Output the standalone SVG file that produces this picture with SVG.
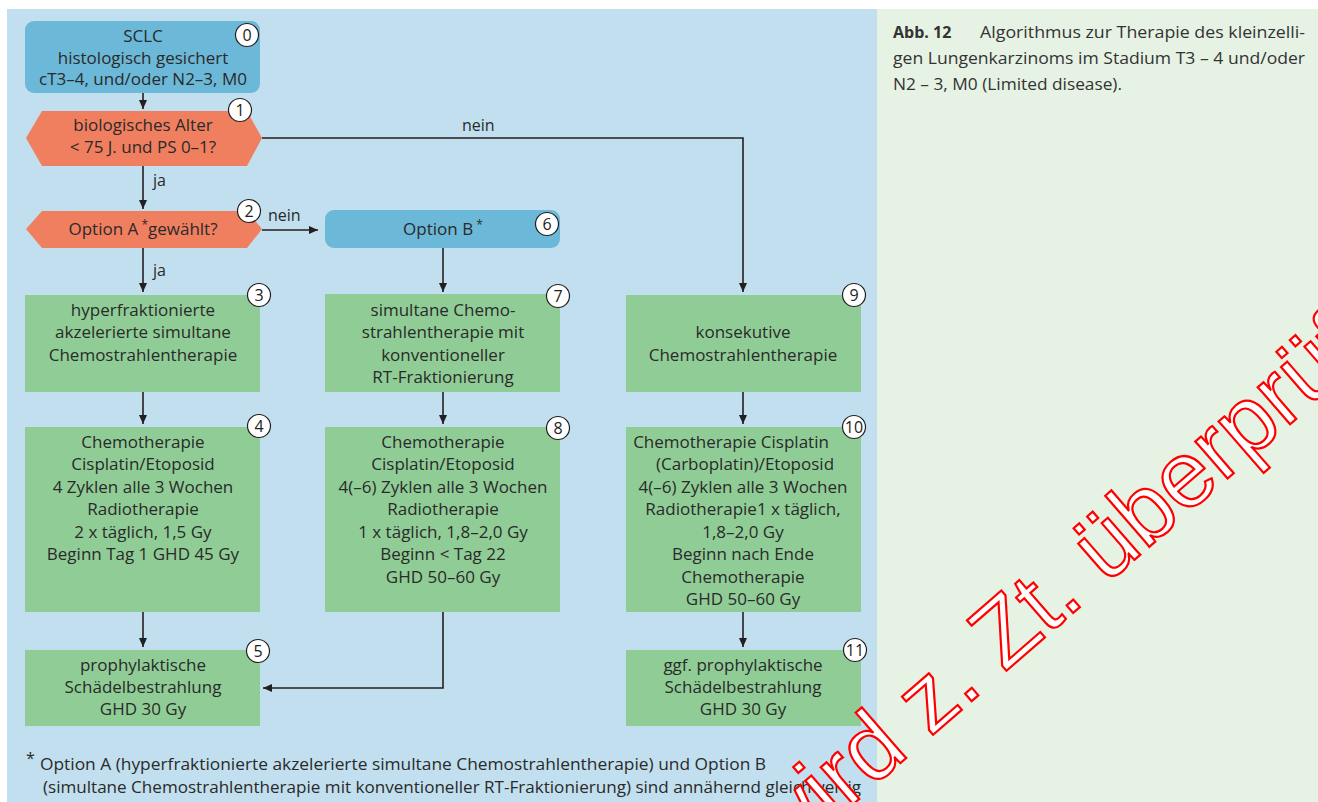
<svg xmlns="http://www.w3.org/2000/svg" width="1318" height="802" viewBox="0 0 1318 802">
<defs>
<marker id="ah" markerUnits="userSpaceOnUse" markerWidth="10" markerHeight="8" refX="9" refY="4" orient="auto">
<path d="M0,0 L9,4 L0,8 z" fill="#231f20"/>
</marker>
<style>
.t{font-family:"Open Sans","Noto Sans","Liberation Sans",sans-serif;font-size:17px;fill:#2a2a2a;text-anchor:middle}
.lbl{font-family:"Open Sans","Noto Sans","Liberation Sans",sans-serif;font-size:16px;fill:#2a2a2a}
.cap{font-family:"Open Sans","Noto Sans","Liberation Sans",sans-serif;font-size:16px;fill:#333}
.num{font-family:"Open Sans","Noto Sans","Liberation Sans",sans-serif;font-size:16px;fill:#222;text-anchor:middle}
.nc{fill:#fff;stroke:#231f20;stroke-width:1.2}
.blue{fill:#6cb8d8}
.green{fill:#90cd96}
.sal{fill:#f07f60}
.c{fill:none;stroke:#231f20;stroke-width:1.6;marker-end:url(#ah)}
.wm{font-family:"Liberation Sans","Arimo",sans-serif;font-size:93px;fill:#fff;stroke:#ff0000;stroke-width:2.2}
</style>
</defs>
<rect x="0" y="0" width="1318" height="802" fill="#fff"/>
<rect x="7" y="9" width="870" height="793" fill="#c1dfee"/>
<rect x="877" y="9" width="441" height="793" fill="#e6f2e4"/>

<g id="connectors">
<line class="c" x1="143" y1="93" x2="143" y2="109"/>
<line class="c" x1="143" y1="166" x2="143" y2="209"/>
<polyline class="c" points="262,138 743,138 743,292"/>
<line class="c" x1="262" y1="230" x2="318" y2="230"/>
<line class="c" x1="143" y1="248" x2="143" y2="292"/>
<line class="c" x1="443" y1="248" x2="443" y2="292"/>
<line class="c" x1="143" y1="392" x2="143" y2="424"/>
<line class="c" x1="443" y1="392" x2="443" y2="424"/>
<line class="c" x1="743" y1="392" x2="743" y2="424"/>
<line class="c" x1="143" y1="612" x2="143" y2="647"/>
<polyline class="c" points="443,612 443,688 263,688"/>
<line class="c" x1="743" y1="612" x2="743" y2="647"/>
<text class="lbl" x="153" y="186">ja</text>
<text class="lbl" x="153" y="276">ja</text>
<text class="lbl" x="268" y="221">nein</text>
<text class="lbl" x="462" y="131">nein</text>
</g>

<g id="n0">
<rect class="blue" x="25" y="21" width="235" height="72" rx="9"/>
<text class="t" x="143" y="42">SCLC</text>
<text class="t" x="143" y="64">histologisch gesichert</text>
<text class="t" x="143" y="85">cT3–4, und/oder N2–3, M0</text>
<circle class="nc" cx="247" cy="35" r="11.5"/><text class="num" x="247" y="41">0</text>
</g>

<g id="n1">
<polygon class="sal" points="26,138 42,111 247,111 262,138 247,166 42,166"/>
<text class="t" x="143" y="131">biologisches Alter</text>
<text class="t" x="143" y="153">&lt; 75 J. und PS 0–1?</text>
<circle class="nc" cx="240" cy="110" r="11.5"/><text class="num" x="240" y="116">1</text>
</g>

<g id="n2">
<polygon class="sal" points="26,229 42,211 247,211 262,229 247,248 42,248"/>
<text class="t" x="143" y="235">Option A<tspan font-size="12" dy="-6"> *</tspan><tspan dy="6">gewählt?</tspan></text>
<circle class="nc" cx="249" cy="211" r="11.5"/><text class="num" x="249" y="217">2</text>
</g>

<g id="n6">
<rect class="blue" x="325" y="210" width="235" height="38" rx="9"/>
<text class="t" x="443" y="235">Option B<tspan font-size="12" dy="-6"> *</tspan></text>
<circle class="nc" cx="547" cy="224" r="11.5"/><text class="num" x="547" y="230">6</text>
</g>

<g id="n3">
<rect class="green" x="25" y="295" width="235" height="97"/>
<text class="t" x="143" y="316">hyperfraktionierte</text>
<text class="t" x="143" y="338">akzelerierte simultane</text>
<text class="t" x="143" y="361">Chemostrahlentherapie</text>
<circle class="nc" cx="259" cy="295" r="11.5"/><text class="num" x="259" y="301">3</text>
</g>

<g id="n7">
<rect class="green" x="325" y="294" width="235" height="98"/>
<text class="t" x="443" y="316">simultane Chemo-</text>
<text class="t" x="443" y="338">strahlentherapie mit</text>
<text class="t" x="443" y="361">konventioneller</text>
<text class="t" x="443" y="383">RT-Fraktionierung</text>
<circle class="nc" cx="558" cy="296" r="11.5"/><text class="num" x="558" y="302">7</text>
</g>

<g id="n9">
<rect class="green" x="626" y="295" width="235" height="97"/>
<text class="t" x="743" y="338">konsekutive</text>
<text class="t" x="743" y="361">Chemostrahlentherapie</text>
<circle class="nc" cx="854" cy="295" r="11.5"/><text class="num" x="854" y="301">9</text>
</g>

<g id="n4">
<rect class="green" x="25" y="427" width="235" height="185"/>
<text class="t" x="143" y="448">Chemotherapie</text>
<text class="t" x="143" y="470">Cisplatin/Etoposid</text>
<text class="t" x="143" y="493">4 Zyklen alle 3 Wochen</text>
<text class="t" x="143" y="515">Radiotherapie</text>
<text class="t" x="143" y="538">2 x täglich, 1,5 Gy</text>
<text class="t" x="143" y="560">Beginn Tag 1 GHD 45 Gy</text>
<circle class="nc" cx="259" cy="426" r="11.5"/><text class="num" x="259" y="432">4</text>
</g>

<g id="n8">
<rect class="green" x="325" y="427" width="235" height="185"/>
<text class="t" x="443" y="448">Chemotherapie</text>
<text class="t" x="443" y="470">Cisplatin/Etoposid</text>
<text class="t" x="443" y="493">4(–6) Zyklen alle 3 Wochen</text>
<text class="t" x="443" y="515">Radiotherapie</text>
<text class="t" x="443" y="538">1 x täglich, 1,8–2,0 Gy</text>
<text class="t" x="443" y="560">Beginn &lt; Tag 22</text>
<text class="t" x="443" y="583">GHD 50–60 Gy</text>
<circle class="nc" cx="558" cy="428" r="11.5"/><text class="num" x="558" y="434">8</text>
</g>

<g id="n10">
<rect class="green" x="626" y="427" width="235" height="185"/>
<text class="t" x="731" y="448">Chemotherapie Cisplatin</text>
<text class="t" x="745" y="470">(Carboplatin)/Etoposid</text>
<text class="t" x="743" y="493">4(–6) Zyklen alle 3 Wochen</text>
<text class="t" x="743" y="515">Radiotherapie1 x täglich,</text>
<text class="t" x="743" y="538">1,8–2,0 Gy</text>
<text class="t" x="743" y="560">Beginn nach Ende</text>
<text class="t" x="743" y="583">Chemotherapie</text>
<text class="t" x="743" y="605">GHD 50–60 Gy</text>
<circle class="nc" cx="854" cy="427" r="11.5"/><text class="num" x="854" y="433">10</text>
</g>

<g id="n5">
<rect class="green" x="25" y="650" width="235" height="76"/>
<text class="t" x="143" y="671">prophylaktische</text>
<text class="t" x="143" y="693">Schädelbestrahlung</text>
<text class="t" x="143" y="715">GHD 30 Gy</text>
<circle class="nc" cx="258" cy="651" r="11.5"/><text class="num" x="258" y="657">5</text>
</g>

<g id="n11">
<rect class="green" x="626" y="650" width="235" height="76"/>
<text class="t" x="743" y="671">ggf. prophylaktische</text>
<text class="t" x="743" y="693">Schädelbestrahlung</text>
<text class="t" x="743" y="715">GHD 30 Gy</text>
<circle class="nc" cx="855" cy="650" r="11.5"/><text class="num" x="855" y="656">11</text>
</g>

<g id="footnote">
<text class="lbl" x="26" y="764" font-size="12">*</text>
<text class="lbl" x="40" y="770" textLength="726" lengthAdjust="spacingAndGlyphs">Option A (hyperfraktionierte akzelerierte simultane Chemostrahlentherapie) und Option B</text>
<text class="lbl" x="43" y="793" textLength="818" lengthAdjust="spacingAndGlyphs">(simultane Chemostrahlentherapie mit konventioneller RT-Fraktionierung) sind annähernd gleichwertig</text>
</g>

<g id="caption">
<text class="cap" x="893" y="38" font-weight="bold">Abb. 12</text>
<text class="cap" x="980" y="38" textLength="325" lengthAdjust="spacingAndGlyphs">Algorithmus zur Therapie des kleinzelli-</text>
<text class="cap" x="893" y="64" textLength="412" lengthAdjust="spacingAndGlyphs">gen Lungenkarzinoms im Stadium T3 – 4 und/oder</text>
<text class="cap" x="893" y="90" textLength="229" lengthAdjust="spacingAndGlyphs">N2 – 3, M0 (Limited disease).</text>
</g>

<text class="wm" x="782" y="866" transform="rotate(-41 782 866)">wird z. Zt. überprüft</text>
</svg>
